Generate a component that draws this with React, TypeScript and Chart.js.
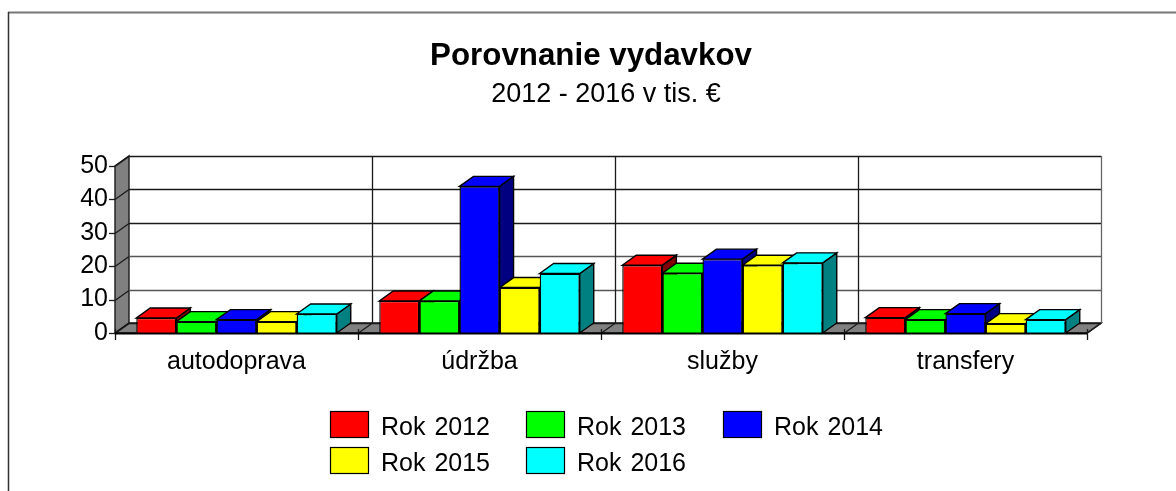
import React, { useEffect, useRef } from "react";
import { Chart, registerables } from "chart.js";

Chart.register(...registerables);

const TITLE = "Porovnanie vydavkov";
const SUBTITLE = "2012 - 2016 v tis. €";
const categories = ["autodoprava", "údržba", "služby", "transfery"];
const rok2012 = [4.5, 9.6, 20.3, 4.6];
const rok2013 = [3.4, 9.6, 17.9, 4.0];
const rok2014 = [4.0, 43.9, 22.1, 5.8];
const rok2015 = [3.4, 13.6, 20.3, 2.8];
const rok2016 = [5.7, 17.8, 21.0, 4.0];
const seriesNames = ["Rok 2012", "Rok 2013", "Rok 2014", "Rok 2015", "Rok 2016"];
const seriesValues = [rok2012, rok2013, rok2014, rok2015, rok2016];
const frontColors = ["#ff0000", "#00ff00", "#0000ff", "#ffff00", "#00ffff"];
const sideColors = ["#800000", "#008000", "#000080", "#808000", "#008080"];

const FONT = '"Liberation Sans", Arial, sans-serif';
const DX = 14;
const DY = 10;
const LINE = "#1a1a1a";

function poly(ctx: CanvasRenderingContext2D, pts: number[][], fill: string | null, stroke: string | null, w = 1.4) {
  ctx.beginPath();
  pts.forEach((p, i) => (i ? ctx.lineTo(p[0], p[1]) : ctx.moveTo(p[0], p[1])));
  ctx.closePath();
  if (fill) {
    ctx.fillStyle = fill;
    ctx.fill();
  }
  if (stroke) {
    ctx.strokeStyle = stroke;
    ctx.lineWidth = w;
    ctx.stroke();
  }
}

function seg(ctx: CanvasRenderingContext2D, x1: number, y1: number, x2: number, y2: number, color = LINE, w = 1.3) {
  ctx.beginPath();
  ctx.moveTo(x1, y1);
  ctx.lineTo(x2, y2);
  ctx.strokeStyle = color;
  ctx.lineWidth = w;
  ctx.stroke();
}

const box3d = {
  id: "box3d",
  beforeDatasetsDraw(chart: any) {
    const ctx: CanvasRenderingContext2D = chart.ctx;
    const { left, right, top, bottom } = chart.chartArea;
    const y = chart.scales.y;
    ctx.save();
    // frame of the page
    seg(ctx, 8, 12.5, 1176, 12.5, "#777777", 2);
    seg(ctx, 8.5, 12, 8.5, 491, "#333333", 1.5);
    // left wall and floor
    poly(ctx, [[left, bottom], [left, top], [left + DX, top - DY], [left + DX, bottom - DY]], "#808080", LINE);
    poly(ctx, [[left, bottom], [right, bottom], [right + DX, bottom - DY], [left + DX, bottom - DY]], "#808080", LINE);
    // horizontal grid, with the slant across the wall and the tick
    y.ticks.forEach((t: any) => {
      const py = Math.round(y.getPixelForValue(t.value)) + 0.5;
      const shade = t.value === 10 || t.value === 20 ? "#555555" : LINE;
      seg(ctx, left + DX, py - DY, right + DX, py - DY, t.value === 0 ? LINE : shade);
      seg(ctx, left, py, left + DX, py - DY);
      seg(ctx, left - 6, py, left, py);
    });
    // vertical grid on the back wall, slant across the floor, x ticks
    const n = categories.length;
    for (let i = 0; i <= n; i++) {
      const px = Math.round(left + ((right - left) * i) / n) + 0.5;
      if (i > 0) seg(ctx, px + DX, top - DY, px + DX, bottom - DY, i === n ? "#666666" : LINE);
      seg(ctx, px, bottom, px + DX, bottom - DY);
      seg(ctx, px, bottom - 4, px, bottom + 7, LINE);
    }
    // side and top faces, left to right so nearer bars cover farther ones
    for (let c = 0; c < n; c++) {
      seriesValues.forEach((_, d) => {
        const bar = chart.getDatasetMeta(d).data[c];
        const l = bar.x - bar.width / 2;
        const r = bar.x + bar.width / 2;
        const t = bar.y;
        const b = bar.base;
        poly(ctx, [[r, t], [r + DX, t - DY], [r + DX, b - DY], [r, b]], sideColors[d], "#000000");
        poly(ctx, [[l, t], [r, t], [r + DX, t - DY], [l + DX, t - DY]], frontColors[d], "#000000");
      });
    }
    ctx.restore();
  },
  afterDatasetsDraw(chart: any) {
    const ctx: CanvasRenderingContext2D = chart.ctx;
    const { left, right, bottom } = chart.chartArea;
    seg(ctx, left, bottom + 0.5, right, bottom + 0.5, "#000000", 2);
  },
  afterDraw(chart: any) {
    const ctx: CanvasRenderingContext2D = chart.ctx;
    ctx.save();
    const cols = [330, 526, 723];
    const rows = [411, 447];
    ctx.font = `25px ${FONT}`;
    (ctx as any).wordSpacing = "2px";
    ctx.textBaseline = "alphabetic";
    ctx.textAlign = "left";
    seriesNames.forEach((name, i) => {
      const x = cols[i % 3];
      const yy = rows[Math.floor(i / 3)];
      ctx.fillStyle = frontColors[i];
      ctx.fillRect(x, yy, 39, 26);
      ctx.strokeStyle = "#000000";
      ctx.lineWidth = 1.2;
      ctx.strokeRect(x + 0.5, yy + 0.5, 38, 26);
      ctx.fillStyle = "#000000";
      ctx.fillText(name, x + 51, yy + 24);
    });
    ctx.restore();
  },
};

const shiftTitles = {
  id: "shiftTitles",
  afterLayout(chart: any) {
    chart.boxes.forEach((b: any) => {
      const text = b.options && b.options.text;
      const shift = text === TITLE ? 47.5 : text === SUBTITLE ? 62.5 : 0;
      if (shift) {
        b.left += shift;
        b.right += shift;
      }
    });
  },
};

export default function App() {
  const ref = useRef<HTMLCanvasElement>(null);
  useEffect(() => {
    const chart = new Chart(ref.current!, {
      type: "bar",
      data: {
        labels: categories,
        datasets: seriesNames.map((label, i) => ({
          label,
          data: seriesValues[i],
          backgroundColor: frontColors[i],
          borderColor: "#000000",
          borderWidth: 1.4,
          categoryPercentage: 0.825,
          barPercentage: 1,
        })),
      },
      options: {
        responsive: false,
        animation: false,
        layout: { padding: { left: 0, right: 89, bottom: 108, top: 0 } },
        plugins: {
          legend: { display: false },
          tooltip: { enabled: false },
          title: {
            display: true,
            text: TITLE,
            color: "#000000",
            font: { family: FONT, size: 31.3, weight: "bold" },
            padding: { top: 38, bottom: 3 },
          },
          subtitle: {
            display: true,
            text: SUBTITLE,
            color: "#000000",
            font: { family: FONT, size: 27, weight: "normal" },
            padding: { top: 0, bottom: 55 },
          },
        },
        scales: {
          x: {
            grid: { display: false },
            border: { display: false },
            ticks: { color: "#000000", font: { family: FONT, size: 25 }, padding: 6, maxRotation: 0 },
            afterFit: (s: any) => { s.height = 50; },
          },
          y: {
            min: 0,
            max: 50,
            grid: { display: false },
            border: { display: false },
            ticks: { stepSize: 10, autoSkip: false, color: "#000000", font: { family: FONT, size: 25 }, padding: -1 },
            afterFit: (s: any) => { s.width = 115; },
          },
        },
      },
      plugins: [shiftTitles, box3d],
    } as any);
    return () => chart.destroy();
  }, []);
  return (
    <canvas
      ref={ref}
      width={1176}
      height={491}
      style={{ position: "absolute", left: 0, top: 0, display: "block" }}
    />
  );
}
